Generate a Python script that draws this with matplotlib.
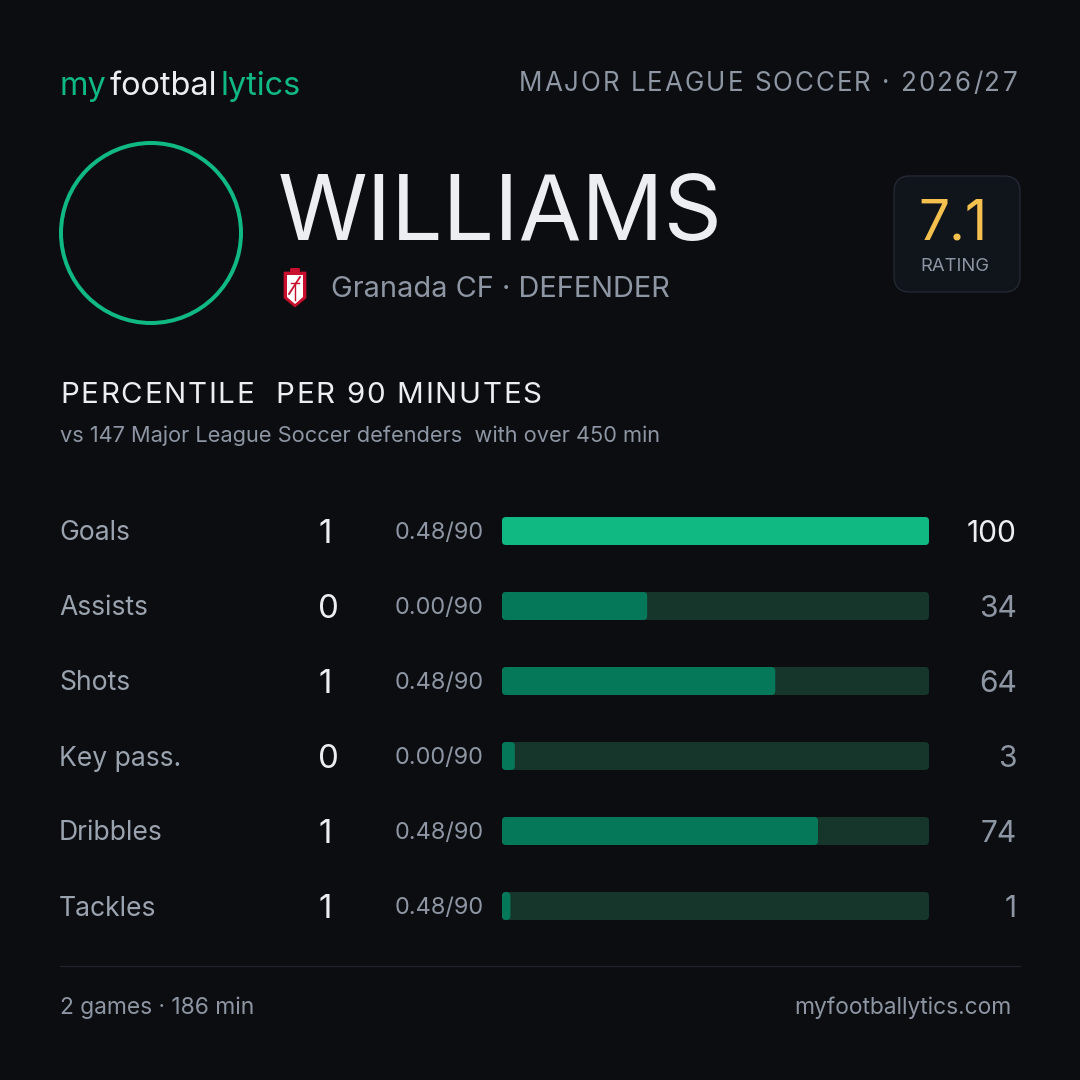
import matplotlib as mpl

mpl.use("Agg")

import matplotlib.pyplot as plt
from matplotlib import transforms
from matplotlib.patches import Circle, FancyBboxPatch, Polygon

# --- data ---------------------------------------------------------------
stat_labels = ["Goals", "Assists", "Shots", "Key pass.", "Dribbles", "Tackles"]
stat_counts = [1, 0, 1, 0, 1, 1]
stat_per90 = [0.48, 0.00, 0.48, 0.00, 0.48, 0.48]
stat_pctile = [100, 34, 64, 3, 74, 1]

player_name = "WILLIAMS"
club_line = "Granada CF · DEFENDER"
league_line = "MAJOR LEAGUE SOCCER · 2026/27"
rating = 7.1
subtitle = "vs 147 Major League Soccer defenders  with over 450 min"
footer_left = "2 games · 186 min"
footer_right = "myfootballytics.com"

# --- style --------------------------------------------------------------
BG = "#0b0d11"
GREEN = "#10b981"
GREEN_DARK = "#06785a"
TRACK = "#16352b"
WHITE = "#eceef2"
GREY = "#8d96a2"
GREY_LABEL = "#9aa3ae"
GOLD = "#f4c14f"

mpl.rcParams["font.family"] = ["Inter", "DejaVu Sans"]

W = H = 1080
fig = plt.figure(figsize=(10.8, 10.8), dpi=100, facecolor=BG)
ax = fig.add_axes([0, 0, 1, 1])
ax.set_xlim(0, W)
ax.set_ylim(H, 0)
ax.axis("off")
ax.set_facecolor(BG)
renderer = fig.canvas.get_renderer()


def pt(px):
    return px * 72 / 100


def _width(s, **kw):
    t = ax.text(0, 0, s, **kw)
    w = t.get_window_extent(renderer).width
    t.remove()
    return w


def spaced_text(x, y, s, spacing, ha="left", **kw):
    """Text with letter spacing (px), drawn glyph by glyph."""
    bar = _width("|", **kw)
    offs = [(_width(s[:k] + "|", **kw) - bar) if k else 0.0 for k in range(len(s))]
    total = _width(s, **kw) + spacing * (len(s) - 1)
    if ha == "right":
        x -= total
    elif ha == "center":
        x -= total / 2
    for k, ch in enumerate(s):
        if ch != " ":
            ax.text(x + offs[k] + k * spacing, y, ch, ha="left", va="baseline", **kw)


# --- header: logo -------------------------------------------------------
x = 60
for part, col, gap in [("my", GREEN, 3), ("footbal", WHITE, 3), ("lytics", GREEN, 0)]:
    t = ax.text(x, 95, part, color=col, fontsize=pt(32.5), ha="left", va="baseline")
    x += t.get_window_extent(renderer).width + gap

spaced_text(1017, 91, league_line, 2.0, ha="right", color=GREY, fontsize=pt(26))

# avatar ring
ax.add_patch(Circle((151, 233), 90, fill=False, ec=GREEN, lw=pt(4)))

ax.text(278, 240, player_name, color=WHITE, fontsize=pt(91), ha="left",
        va="baseline")

# club crest (simplified Granada shield)
cx0, cy0 = 284, 268
shield = [(cx0, cy0 + 4), (cx0 + 22, cy0 + 4), (cx0 + 22, cy0 + 30),
          (cx0 + 11, cy0 + 39), (cx0, cy0 + 30)]
ax.add_patch(Polygon(shield, closed=True, fc="#c8102e", ec="#c8102e", lw=0.5))
inner = [(cx0 + 3, cy0 + 7), (cx0 + 19, cy0 + 7), (cx0 + 19, cy0 + 29),
         (cx0 + 11, cy0 + 36), (cx0 + 3, cy0 + 29)]
ax.add_patch(Polygon(inner, closed=True, fc="white", ec="none"))
ax.plot([cx0 + 5, cx0 + 16], [cy0 + 26, cy0 + 9], color="#c8102e", lw=1.3)
ax.plot([cx0 + 7, cx0 + 15], [cy0 + 15, cy0 + 15], color="#c8102e", lw=1.0)
ax.plot([cx0 + 11, cx0 + 11], [cy0 + 15, cy0 + 32], color="#c8102e", lw=1.0)
ax.add_patch(FancyBboxPatch((cx0 + 6, cy0), 10, 4,
                            boxstyle="round,pad=0,rounding_size=1.5",
                            fc="#c8102e", ec="none"))

ax.text(331, 297, club_line, color=GREY, fontsize=pt(29), ha="left",
        va="baseline")

# rating card
ax.add_patch(FancyBboxPatch((894, 176), 126, 116,
                            boxstyle="round,pad=0,rounding_size=16",
                            fc="#10141b", ec="#232833", lw=1))
ax.text(953, 239, f"{rating:.1f}", color=GOLD, fontsize=pt(55), ha="center",
        va="baseline")
ax.text(955, 271, "RATING", color=GREY, fontsize=pt(18.5), ha="center",
        va="baseline")

# section heading
spaced_text(60, 403, "PERCENTILE  PER 90 MINUTES", 1.7, color=WHITE,
            fontsize=pt(29.5))
ax.text(60, 442, subtitle, color=GREY, fontsize=pt(21.8), ha="left", va="baseline")

# --- bars ---------------------------------------------------------------
bar_left, bar_w = 502, 427
row_top, row_bot = 531 - 37.5, 906 + 37.5
axb = fig.add_axes([bar_left / W, 1 - row_bot / H, bar_w / W, (row_bot - row_top) / H])
axb.set_xlim(0, 100)
axb.set_ylim(len(stat_labels) - 0.5, -0.5)
axb.axis("off")

px_x = bar_w / 100.0
px_y = (row_bot - row_top) / len(stat_labels)
bar_h = 28 / px_y
rad = 4 / px_x
aspect = px_x / px_y

for i, p in enumerate(stat_pctile):
    axb.add_patch(FancyBboxPatch((0, i - bar_h / 2), 100, bar_h,
                                 boxstyle=f"round,pad=0,rounding_size={rad}",
                                 mutation_aspect=aspect, fc=TRACK, ec="none"))
    fill_col = GREEN if p >= 90 else GREEN_DARK
    w = max(p, 2 * rad + 0.1)
    axb.add_patch(FancyBboxPatch((0, i - bar_h / 2), w, bar_h,
                                 boxstyle=f"round,pad=0,rounding_size={rad}",
                                 mutation_aspect=aspect, fc=fill_col, ec="none"))

row_tr = transforms.blended_transform_factory(ax.transData, axb.transData)


def row_text(xpos, i, s, cap_px, **kw):
    tr = transforms.offset_copy(row_tr, fig=fig, y=-cap_px / 2, units="dots")
    ax.text(xpos, i, s, transform=tr, va="baseline", **kw)


for i, (lab, c, r90, p) in enumerate(zip(stat_labels, stat_counts, stat_per90, stat_pctile)):
    row_text(59, i, lab, 19, color=GREY_LABEL, fontsize=pt(26.5), ha="left")
    row_text(318, i, str(c), 24, color=WHITE, fontsize=pt(33), ha="left")
    row_text(395, i, f"{r90:.2f}/90", 16, color=GREY, fontsize=pt(23.5), ha="left")
    row_text(1017, i, str(p), 22, color=WHITE if p >= 90 else GREY,
             fontsize=pt(30), ha="right")

# --- footer -------------------------------------------------------------
ax.plot([60, 1020], [965.5, 965.5], color="#1f232b", lw=pt(1.2))
ax.text(60, 1014, footer_left, color=GREY, fontsize=pt(22.8), ha="left",
        va="baseline")
ax.text(1012, 1014, footer_right, color=GREY, fontsize=pt(22.8), ha="right",
        va="baseline")

fig.savefig("out.png", dpi=100, facecolor=BG)
